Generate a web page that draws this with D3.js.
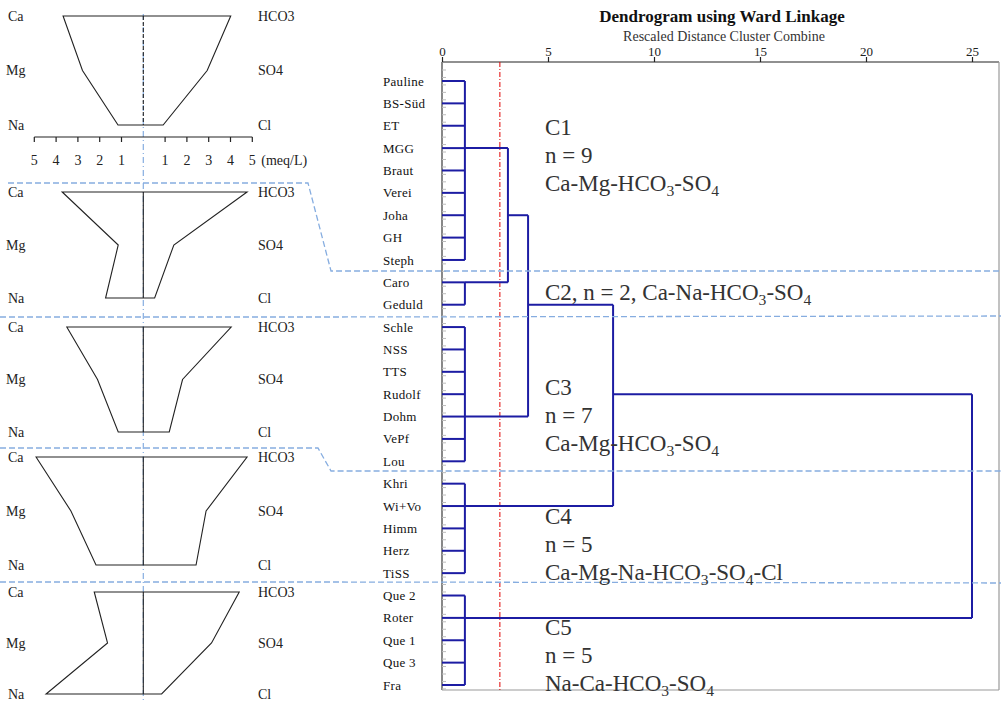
<!DOCTYPE html>
<html>
<head>
<meta charset="utf-8">
<script src="https://cdn.jsdelivr.net/npm/d3@7"></script>
<style>
  body { margin: 0; background: #fff; }
  text { font-family: "Liberation Serif", "Times New Roman", serif; }
</style>
</head>
<body>
<div id="chart"></div>
<script>
// ---- data ----
var cations = ["Ca", "Mg", "Na"];
var anions = ["HCO3", "SO4", "Cl"];
// meq/L, top to bottom
var cationValues = [
  [3.68, 2.79, 1.16],
  [3.72, 1.15, 1.73],
  [3.51, 2.10, 1.15],
  [4.92, 3.32, 2.17],
  [2.25, 1.64, 4.46]
];
var anionValues = [
  [4.01, 2.93, 0.91],
  [4.76, 1.40, 0.52],
  [4.03, 1.80, 1.19],
  [4.76, 2.88, 2.42],
  [4.40, 3.13, 0.84]
];
var stiffTicks = [-5, -4, -3, -2, -1, 1, 2, 3, 4, 5];

var leaves = ["Pauline", "BS-Süd", "ET", "MGG", "Braut", "Verei", "Joha", "GH", "Steph",
  "Caro", "Geduld", "Schle", "NSS", "TTS", "Rudolf", "Dohm", "VePf", "Lou",
  "Khri", "Wi+Vo", "Himm", "Herz", "TiSS", "Que 2", "Roter", "Que 1", "Que 3", "Fra"];
// clusters of leaves: first/last leaf index, leaf row where the branch leaves, distance
var clusterNames = ["C1", "C2", "C3", "C4", "C5"];
var clusterFirst = [0, 9, 11, 18, 23];
var clusterLast = [8, 10, 17, 22, 27];
var clusterRow = [3, 9, 15, 19, 24];
var clusterDist = [1.08, 1.08, 1.08, 1.08, 1.08];
// higher merges
var merges = [
  {name: "M1", a: "C1", b: "C2", dist: 3.11, row: 6},
  {name: "M2", a: "M1", b: "C3", dist: 4.06, row: 10},
  {name: "M3", a: "M2", b: "C4", dist: 8.07, row: 14},
  {name: "M4", a: "M3", b: "C5", dist: 25.0, row: null}
];
var distTicks = [0, 5, 10, 15, 20, 25];
var cutDist = 2.73;

var clusterCount = ["9", "2", "7", "5", "5"];
var clusterType = [
  ["Ca-Mg-HCO", "3", "-SO", "4", ""],
  ["Ca-Na-HCO", "3", "-SO", "4", ""],
  ["Ca-Mg-HCO", "3", "-SO", "4", ""],
  ["Ca-Mg-Na-HCO", "3", "-SO", "4", "-Cl"],
  ["Na-Ca-HCO", "3", "-SO", "4", ""]
];

// ---- layout ----
var W = 1001, H = 703;
var svg = d3.select("#chart").append("svg")
  .attr("width", W).attr("height", H);

var sepColor = "#86ade0";
var lineBlue = "#1c1ca3";

// ---- Stiff diagrams ----
var panelRows = [[16, 125], [192, 298], [327, 432], [457, 565], [592, 694]];
var xs = d3.scaleLinear().domain([-5, 5]).range([34.3, 252.3]);

// blue dash-dot centre line
svg.append("line")
  .attr("x1", xs(0)).attr("x2", xs(0)).attr("y1", 14).attr("y2", H)
  .attr("stroke", sepColor).attr("stroke-width", 1.2)
  .attr("stroke-dasharray", "6,3,1,3");

panelRows.forEach(function(r, i) {
  var y = d3.scalePoint().domain([0, 1, 2]).range(r);
  var g = svg.append("g");

  var pts = [];
  cationValues[i].forEach(function(v, k) { pts.push([xs(-v), y(k)]); });
  for (var k = 2; k >= 0; k--) pts.push([xs(anionValues[i][k]), y(k)]);
  g.append("path")
    .attr("d", d3.line()(pts) + "Z")
    .attr("fill", "none").attr("stroke", "#222").attr("stroke-width", 1.1);

  g.append("line")
    .attr("x1", xs(0)).attr("x2", xs(0)).attr("y1", y(0)).attr("y2", y(2))
    .attr("stroke", "#222").attr("stroke-width", 1.1)
    .attr("stroke-dasharray", i === 0 ? "4,2" : null);

  g.selectAll(".cat").data(cations).enter().append("text")
    .attr("x", function(d) { return d === "Mg" ? 6 : 8; })
    .attr("y", function(d, k) { return y(k); })
    .attr("dy", "0.35em").attr("font-size", 14).attr("fill", "#222")
    .text(function(d) { return d; });
  g.selectAll(".an").data(anions).enter().append("text")
    .attr("x", 258)
    .attr("y", function(d, k) { return y(k); })
    .attr("dy", "0.35em").attr("font-size", 14).attr("fill", "#222")
    .text(function(d) { return d; });
});

// scale bar under first panel
var stiffAxis = svg.append("g").attr("transform", "translate(0,137)");
stiffAxis.append("line").attr("x1", xs(-5)).attr("x2", xs(5))
  .attr("stroke", "#222").attr("stroke-width", 1.2);
stiffAxis.selectAll(".tk").data(stiffTicks).enter().append("line")
  .attr("x1", function(d) { return xs(d); }).attr("x2", function(d) { return xs(d); })
  .attr("y1", 0).attr("y2", 5).attr("stroke", "#222").attr("stroke-width", 1.2);
stiffAxis.selectAll(".tl").data(stiffTicks).enter().append("text")
  .attr("x", function(d) { return xs(d); }).attr("y", 28)
  .attr("text-anchor", "middle").attr("font-size", 14).attr("fill", "#222")
  .text(function(d) { return Math.abs(d); });
stiffAxis.append("text").attr("x", xs(5) + 9).attr("y", 28)
  .attr("font-size", 14).attr("fill", "#222").text("(meq/L)");

// ---- Dendrogram ----
var x = d3.scaleLinear().domain([0, 25]).range([442, 972]);
var y = d3.scalePoint().domain(d3.range(leaves.length)).range([81, 685]);
var frameTop = 62, frameBottom = 690, frameRight = 999;

svg.append("text").attr("x", 722).attr("y", 22).attr("text-anchor", "middle")
  .attr("font-size", 17).attr("font-weight", "bold").attr("fill", "#111")
  .text("Dendrogram using Ward Linkage");
svg.append("text").attr("x", 724).attr("y", 41).attr("text-anchor", "middle")
  .attr("font-size", 14).attr("fill", "#333")
  .text("Rescaled Distance Cluster Combine");

// frame
svg.append("line").attr("x1", x(0)).attr("x2", frameRight).attr("y1", frameTop).attr("y2", frameTop)
  .attr("stroke", "#222").attr("stroke-width", 1.2);
svg.append("line").attr("x1", x(0)).attr("x2", x(0)).attr("y1", frameTop).attr("y2", frameBottom)
  .attr("stroke", "#888").attr("stroke-width", 2);
svg.append("line").attr("x1", frameRight).attr("x2", frameRight).attr("y1", frameTop).attr("y2", frameBottom)
  .attr("stroke", "#999").attr("stroke-width", 1.2);
svg.append("line").attr("x1", x(0)).attr("x2", frameRight).attr("y1", frameBottom).attr("y2", frameBottom)
  .attr("stroke", "#999").attr("stroke-width", 1.2);

// top axis
var xAxis = d3.axisTop(x).tickValues(distTicks).tickSize(5).tickPadding(1);
var ax = svg.append("g").attr("transform", "translate(0," + frameTop + ")").call(xAxis);
ax.select(".domain").remove();
ax.selectAll(".tick line").attr("stroke", "#222").attr("stroke-width", 1.2);
ax.selectAll(".tick text").attr("font-family", "Liberation Serif").attr("font-size", 13)
  .attr("fill", "#222");

// minor ticks on left axis
svg.append("g").selectAll("line").data(d3.range(leaves.length * 3)).enter().append("line")
  .attr("x1", x(0)).attr("x2", x(0) + 4)
  .attr("y1", function(d) { return y(0) - 11 + d * (y(1) - y(0)) / 3; })
  .attr("y2", function(d) { return y(0) - 11 + d * (y(1) - y(0)) / 3; })
  .attr("stroke", "#bbb").attr("stroke-width", 1);

// cut line
svg.append("line").attr("x1", x(cutDist)).attr("x2", x(cutDist))
  .attr("y1", frameTop).attr("y2", frameBottom)
  .attr("stroke", "#e00000").attr("stroke-width", 1)
  .attr("stroke-dasharray", "5,2,1,2");

// leaf labels
svg.append("g").selectAll("text").data(leaves).enter().append("text")
  .attr("x", 383).attr("y", function(d, i) { return y(i); })
  .attr("dy", "0.35em").attr("font-size", 13).attr("letter-spacing", 0.3)
  .attr("fill", "#111").text(function(d) { return d; });

// node lookup
var nodes = {};
clusterNames.forEach(function(n, i) {
  nodes[n] = {dist: clusterDist[i], row: clusterRow[i]};
});
merges.forEach(function(m) { nodes[m.name] = {dist: m.dist, row: m.row}; });

var dg = svg.append("g").attr("fill", "none").attr("stroke", lineBlue)
  .attr("stroke-width", 2);

// leaf branches and cluster verticals
clusterNames.forEach(function(n, i) {
  d3.range(clusterFirst[i], clusterLast[i] + 1).forEach(function(j) {
    dg.append("line").attr("x1", x(0)).attr("x2", x(clusterDist[i]))
      .attr("y1", y(j)).attr("y2", y(j));
  });
  dg.append("line").attr("x1", x(clusterDist[i])).attr("x2", x(clusterDist[i]))
    .attr("y1", y(clusterFirst[i])).attr("y2", y(clusterLast[i]));
});

// merges
merges.forEach(function(m) {
  var a = nodes[m.a], b = nodes[m.b];
  [a, b].forEach(function(c) {
    dg.append("line").attr("x1", x(c.dist)).attr("x2", x(m.dist))
      .attr("y1", y(c.row)).attr("y2", y(c.row));
  });
  dg.append("line").attr("x1", x(m.dist)).attr("x2", x(m.dist))
    .attr("y1", y(a.row)).attr("y2", y(b.row));
});

// separators
var seps = [
  [[8, 183], [308, 183], [331, 271], [W, 271]],
  [[0, 317], [330, 317], [W, 316]],
  [[0, 448], [318, 448], [331, 471], [W, 471]],
  [[0, 582], [330, 582], [W, 583]]
];
svg.append("g").selectAll("path").data(seps).enter().append("path")
  .attr("d", function(d) { return d3.line()(d); })
  .attr("fill", "none").attr("stroke", sepColor).attr("stroke-width", 1.3)
  .attr("stroke-dasharray", "6,3");

// cluster annotations
function typeLine(t, arr, fs) {
  arr.forEach(function(s, k) {
    if (!s) return;
    var sub = k % 2 === 1;
    var ts = t.append("tspan").attr("font-size", sub ? fs * 0.68 : fs).text(s);
    if (k > 0) ts.attr("dy", sub ? 5 : -5);
  });
}
var fs = 23;
var annoTop = [127, 292, 387, 516, 627];
var lh = 28;
clusterNames.forEach(function(n, i) {
  var g = svg.append("g").attr("fill", "#333").attr("font-size", fs);
  if (n === "C2") {
    var t = g.append("text").attr("x", 545).attr("y", annoTop[i]).attr("dy", "0.35em");
    t.append("tspan").text(n + ", n = " + clusterCount[i] + ", ");
    typeLine(t, clusterType[i], fs);
    return;
  }
  g.append("text").attr("x", 545).attr("y", annoTop[i]).attr("dy", "0.35em").text(n);
  g.append("text").attr("x", 545).attr("y", annoTop[i] + lh).attr("dy", "0.35em")
    .text("n = " + clusterCount[i]);
  var t2 = g.append("text").attr("x", 545).attr("y", annoTop[i] + 2 * lh).attr("dy", "0.35em");
  typeLine(t2, clusterType[i], fs);
});
</script>
</body>
</html>
